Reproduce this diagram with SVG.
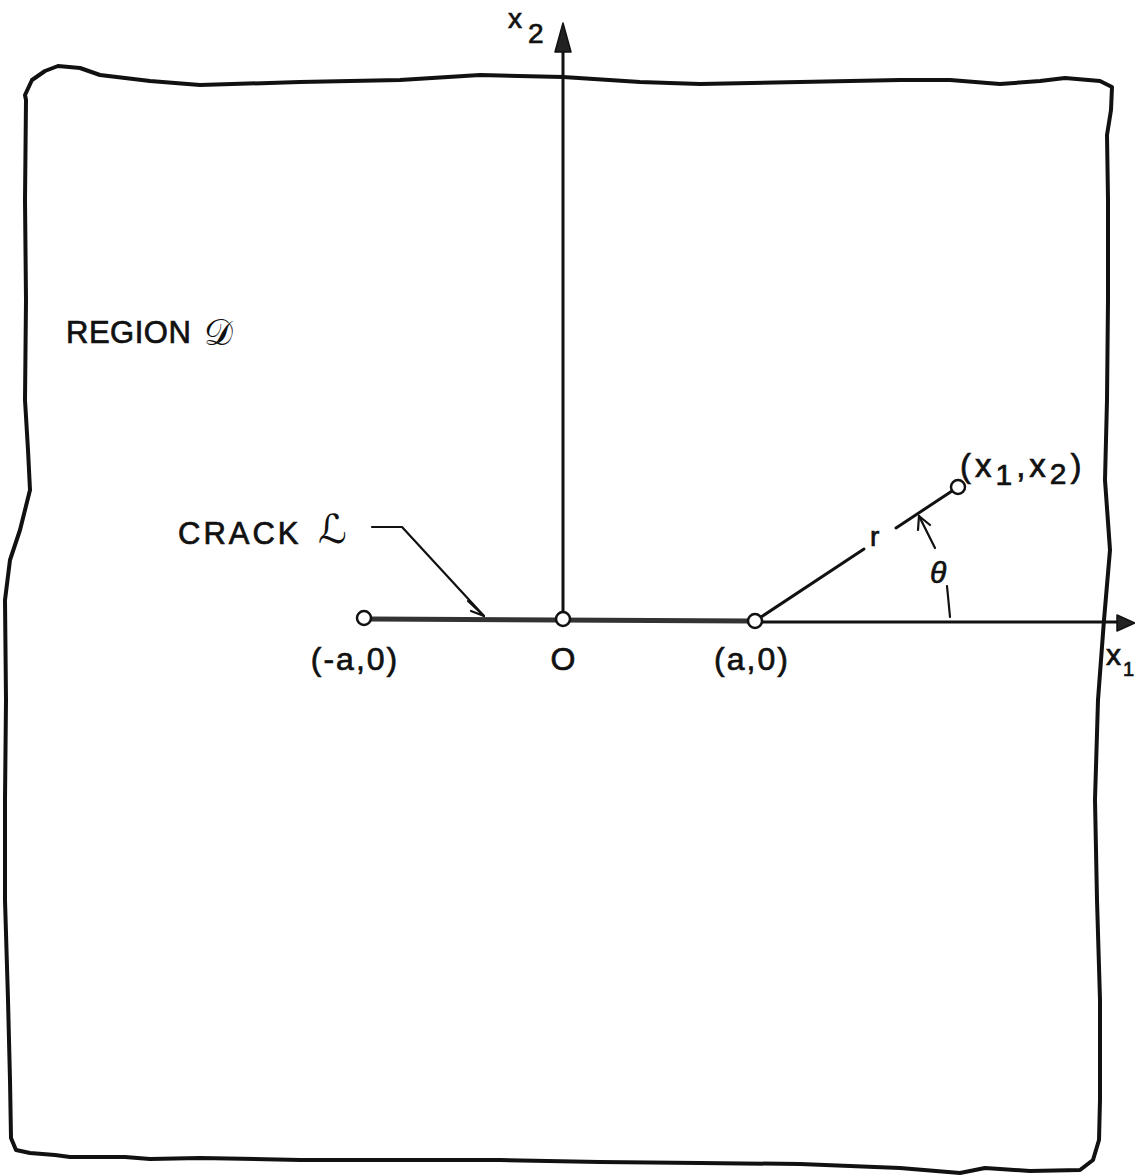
<svg xmlns="http://www.w3.org/2000/svg" width="1135" height="1175" viewBox="0 0 1135 1175">
<defs>
<style>
.t{font-family:"Liberation Sans",Arial,sans-serif;fill:#111;stroke:#111;stroke-width:0.7;}
.bd{fill:none;stroke:#111;stroke-width:4;stroke-linejoin:round;stroke-linecap:round;}
.ax{fill:none;stroke:#111;stroke-width:3;stroke-linecap:round;}
.crk{fill:none;stroke:#333;stroke-width:5;}
.thin{fill:none;stroke:#111;stroke-width:2.2;stroke-linecap:round;stroke-linejoin:round;}
.pt{fill:#fff;stroke:#111;stroke-width:2.5;}
.ah{fill:#222;stroke:#111;stroke-width:1.5;stroke-linejoin:round;}
</style>
</defs>
<rect width="1135" height="1175" fill="#fff"/>
<g id="boundary">
<path class="bd" d="M25 95 L32 80 L45 71 L58 66 L80 68 L100 75 L150 81 L200 85 L300 82 L400 80 L480 75 L563 77 L640 82 L700 84 L800 82 L900 80 L950 80 L1000 84 L1040 81 L1065 78 L1100 81 L1112 87 L1111 110 L1107 135 L1108 200 L1108 300 L1107 400 L1105 480 L1110 550 L1104 620 L1098 700 L1095 800 L1097 900 L1100 1000 L1100 1100 L1099 1140 L1093 1160 L1080 1170 L1030 1171 L1000 1169 L985 1168 L960 1173 L900 1168 L800 1164 L700 1163 L600 1162 L500 1160 L400 1160 L300 1160 L200 1158 L150 1159 L125 1157 L100 1157 L70 1157 L55 1155 L30 1153 L16 1150 L11 1138 L10 1080 L8 1000 L5 900 L5 800 L6 700 L5 600 L10 560 L20 530 L30 490 L28 450 L25 400 L26 300 L25 200 L26 100 Z"/>
</g>
<g id="connectors">
<line class="ax" x1="563" y1="48" x2="563" y2="612"/>
<polygon class="ah" points="563,23 571,52 555,52"/>
<line class="ax" x1="762" y1="622" x2="1120" y2="622"/>
<polygon class="ah" points="1135,623 1117,615 1117,631"/>
<line class="crk" x1="371" y1="619" x2="748" y2="621"/>
<polyline class="thin" points="372,527 402,527 484,616"/>
<polyline class="thin" points="468,601 484,616 471,611"/>
<line class="ax" x1="761" y1="617" x2="864" y2="549"/>
<line class="ax" x1="896" y1="528" x2="952" y2="491"/>
<line class="thin" x1="947" y1="586" x2="950" y2="617"/>
<line class="thin" x1="935" y1="548" x2="919" y2="516"/>
<polyline class="thin" points="918,530 919,516 930,525"/>
</g>
<g id="node-minus-a">
<circle class="pt" cx="364" cy="618" r="7"/>
<text class="t" x="355" y="670" font-size="32" text-anchor="middle" letter-spacing="2">(-a,0)</text>
</g>
<g id="node-origin">
<circle class="pt" cx="563" cy="619" r="7"/>
<text class="t" x="563" y="670" font-size="32" text-anchor="middle">O</text>
</g>
<g id="node-a">
<circle class="pt" cx="755" cy="621" r="7"/>
<text class="t" x="752" y="670" font-size="32" text-anchor="middle" letter-spacing="2">(a,0)</text>
</g>
<g id="node-point">
<circle class="pt" cx="958" cy="487" r="7"/>
<text class="t" x="960" y="477" font-size="33" letter-spacing="4">(x<tspan font-size="30" dy="8">1</tspan><tspan dy="-8">,x</tspan><tspan font-size="30" dy="7">2</tspan><tspan dy="-7">)</tspan></text>
</g>
<g id="labels">
<text class="t" x="508" y="28" font-size="28">x</text>
<text class="t" x="528" y="43" font-size="28">2</text>
<text class="t" x="1106" y="665" font-size="30">x</text>
<text class="t" x="1123" y="676" font-size="20">1</text>
<text class="t" x="870" y="546" font-size="28">r</text>
<text class="t" x="930" y="583" font-size="30" font-style="italic">θ</text>
<text class="t" x="66" y="343" font-size="31" letter-spacing="0.5">REGION</text>
<text x="204" y="345" font-size="36" font-family="'DejaVu Serif','DejaVu Sans',serif" fill="#111">𝒟</text>
<text class="t" x="178" y="544" font-size="31" letter-spacing="3">CRACK</text>
<text x="318" y="543" font-size="40" font-family="'DejaVu Sans','DejaVu Serif',serif" font-style="italic" fill="#111">ℒ</text>
</g>
</svg>
